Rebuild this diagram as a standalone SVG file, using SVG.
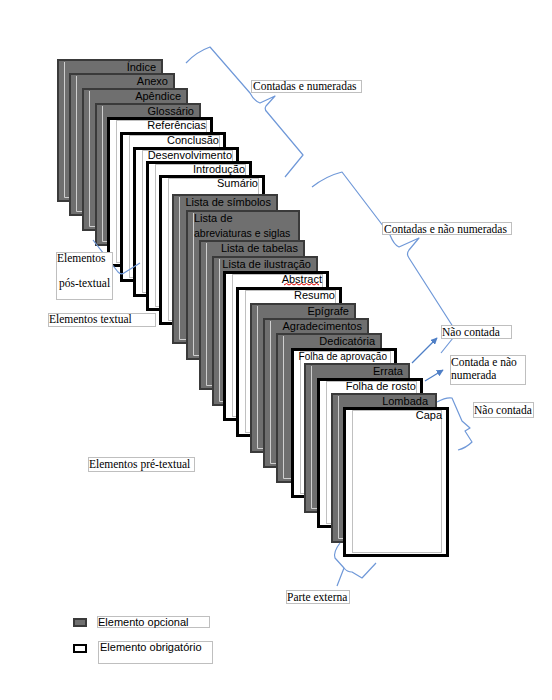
<svg xmlns="http://www.w3.org/2000/svg" width="552" height="700" viewBox="0 0 552 700">
<style>
.g{fill:#6f6f6f;stroke:#3a3a3a;stroke-width:2}
.gi{fill:none;stroke:#cfcfcf;stroke-width:1}
.w{fill:#fff;stroke:#000;stroke-width:3}
.wi{fill:none;stroke:#c0c0c0;stroke-width:1}
.t{font-family:"Liberation Sans",Arial,sans-serif;font-size:11px;fill:#000}
.te{text-anchor:end}
.br{fill:none;stroke:#6f98d8;stroke-width:1.2;stroke-linejoin:round}
.ar{fill:none;stroke:#4f7fc6;stroke-width:1.2}
.lb{fill:#fff;stroke:#bfbfbf;stroke-width:1}
.s{font-family:"Liberation Serif","Times New Roman",serif;font-size:11.5px;fill:#000}
</style>
<defs>
<marker id="ah" viewBox="0 0 10 10" refX="9" refY="5" markerWidth="7" markerHeight="7" orient="auto" markerUnits="userSpaceOnUse">
<path d="M0,0 L10,5 L0,10 z" fill="#4f7fc6"/>
</marker>
</defs>

<g id="pages">
<g id="p-indice" transform="translate(57,59)"><rect class="g" x="1" y="1" width="104" height="141"/><path class="gi" d="M7.5,3 V138.5 H100"/><text class="t te" x="99" y="11.5">Índice</text></g>
<g id="p-anexo" transform="translate(69,73)"><rect class="g" x="1" y="1" width="104" height="141"/><path class="gi" d="M7.5,3 V138.5 H100"/><text class="t te" x="99" y="11.5">Anexo</text></g>
<g id="p-apendice" transform="translate(82,88)"><rect class="g" x="1" y="1" width="104" height="141"/><path class="gi" d="M7.5,3 V138.5 H100"/><text class="t te" x="99" y="11.5">Apêndice</text></g>
<g id="p-glossario" transform="translate(95,103)"><rect class="g" x="1" y="1" width="104" height="141"/><path class="gi" d="M7.5,3 V138.5 H100"/><text class="t te" x="99" y="11.5">Glossário</text></g>
<g id="p-referencias" transform="translate(107,117)"><rect class="w" x="1.5" y="1.5" width="103" height="147"/><rect class="wi" x="9.5" y="3.5" width="90" height="142"/><text class="t te" x="99" y="12">Referências</text></g>
<g id="p-conclusao" transform="translate(120,132)"><rect class="w" x="1.5" y="1.5" width="103" height="147"/><rect class="wi" x="9.5" y="3.5" width="90" height="142"/><text class="t te" x="99" y="12">Conclusão</text></g>
<g id="p-desenvolvimento" transform="translate(133,147)"><rect class="w" x="1.5" y="1.5" width="103" height="147"/><rect class="wi" x="9.5" y="3.5" width="90" height="142"/><text class="t te" x="99" y="12">Desenvolvimento</text></g>
<g id="p-introducao" transform="translate(146,161)"><rect class="w" x="1.5" y="1.5" width="103" height="147"/><rect class="wi" x="9.5" y="3.5" width="90" height="142"/><text class="t te" x="99" y="12">Introdução</text></g>
<g id="p-sumario" transform="translate(159,175)"><rect class="w" x="1.5" y="1.5" width="103" height="147"/><rect class="wi" x="9.5" y="3.5" width="90" height="142"/><text class="t te" x="99" y="12">Sumário</text></g>
<g id="p-simbolos" transform="translate(172,194)"><rect class="g" x="1" y="1" width="104" height="148"/><path class="gi" d="M7.5,3 V145.5 H100"/><text class="t te" x="99" y="12">Lista de símbolos</text></g>
<g id="p-abreviaturas" transform="translate(186,210)"><rect class="g" x="1" y="1" width="112" height="148"/><path class="gi" d="M7.5,3 V145.5 H108"/><text class="t" x="8" y="12">Lista de</text><text class="t" x="8" y="27" style="font-size:10.5px">abreviaturas e siglas</text></g>
<g id="p-tabelas" transform="translate(199,240)"><rect class="g" x="1" y="1" width="104" height="148"/><path class="gi" d="M7.5,3 V145.5 H100"/><text class="t te" x="99" y="12">Lista de tabelas</text></g>
<g id="p-ilustracao" transform="translate(212,256)"><rect class="g" x="1" y="1" width="104" height="148"/><path class="gi" d="M7.5,3 V145.5 H100"/><text class="t te" x="99" y="12">Lista de ilustração</text></g>
<g id="p-abstract" transform="translate(223,271)"><rect class="w" x="1.5" y="1.5" width="103" height="147"/><rect class="wi" x="9.5" y="3.5" width="90" height="142"/><text class="t te" x="99" y="12">Abstract</text><path d="M61,14 l2.5,-1.5 l2.5,1.5 l2.5,-1.5 l2.5,1.5 l2.5,-1.5 l2.5,1.5 l2.5,-1.5 l2.5,1.5 l2.5,-1.5 l2.5,1.5 l2.5,-1.5 l2.5,1.5 l2.5,-1.5 l2.5,1.5" fill="none" stroke="#e00000" stroke-width="1"/></g>
<g id="p-resumo" transform="translate(236,287)"><rect class="w" x="1.5" y="1.5" width="103" height="147"/><rect class="wi" x="9.5" y="3.5" width="90" height="142"/><text class="t te" x="99" y="12">Resumo</text></g>
<g id="p-epigrafe" transform="translate(250,303)"><rect class="g" x="1" y="1" width="104" height="148"/><path class="gi" d="M7.5,3 V145.5 H100"/><text class="t te" x="99" y="12">Epígrafe</text></g>
<g id="p-agradecimentos" transform="translate(263,318)"><rect class="g" x="1" y="1" width="104" height="148"/><path class="gi" d="M7.5,3 V145.5 H100"/><text class="t te" x="99" y="12">Agradecimentos</text></g>
<g id="p-dedicatoria" transform="translate(276,333)"><rect class="g" x="1" y="1" width="104" height="148"/><path class="gi" d="M7.5,3 V145.5 H100"/><text class="t te" x="99" y="12">Dedicatória</text></g>
<g id="p-aprovacao" transform="translate(291,348)"><rect class="w" x="1.5" y="1.5" width="103" height="147"/><rect class="wi" x="9.5" y="3.5" width="90" height="142"/><text class="t te" x="96" y="12" style="font-size:10px">Folha de aprovação</text></g>
<g id="p-errata" transform="translate(304,363)"><rect class="g" x="1" y="1" width="104" height="148"/><path class="gi" d="M7.5,3 V145.5 H100"/><text class="t te" x="99" y="12">Errata</text></g>
<g id="p-rosto" transform="translate(317,378)"><rect class="w" x="1.5" y="1.5" width="103" height="147"/><rect class="wi" x="9.5" y="3.5" width="90" height="142"/><text class="t te" x="99" y="12">Folha de rosto</text></g>
<g id="p-lombada" transform="translate(331,393)"><rect class="g" x="1" y="1" width="104" height="148"/><path class="gi" d="M7.5,3 V145.5 H100"/><text class="t te" x="97" y="12">Lombada</text></g>
<g id="p-capa" transform="translate(343,407)"><rect class="w" x="1.5" y="1.5" width="103" height="147"/><rect class="wi" x="9.5" y="3.5" width="89" height="142"/><text class="t te" x="99" y="12">Capa</text></g>
</g>

<g id="connectors">
<path class="br" d="M186,63 Q196,52 210,47 L250,93 Q254,101 260,103 L275,96 L266,106 Q264,109 267,112 L303,155 L285,177"/>
<path class="br" d="M312,187 Q326,176 342,172 L390,235 Q394,245 399,247 L419,238 L409,250 Q406,254 409,258 L457,333 L441,353"/>
<path class="br" d="M437,402 Q446,397 452,398 L462,421 L470,428 L465,431 L472,442 Q466,448 458,450"/>
<path class="br" d="M340,543 Q333,552 335,558 L344,568 L337,586 M344,568 Q347,572 352,572 L362,578 L376,563"/>
<path class="br" d="M93,240 L118,272 Q121,275 124,273 L140,263"/>
<path class="ar" d="M412,363 L437,338" marker-end="url(#ah)"/>
<path class="ar" d="M425,381 L443,370" marker-end="url(#ah)"/>
</g>

<g id="lbl-contadas-numeradas"><rect class="lb" x="251.5" y="80.5" width="110" height="12"/><text class="s" x="253" y="90">Contadas e numeradas</text></g>
<g id="lbl-contadas-nao-numeradas"><rect class="lb" x="382.5" y="222.5" width="129" height="12"/><text class="s" x="384" y="232.5">Contadas e não numeradas</text></g>
<g id="lbl-nao-contada-1"><rect class="lb" x="441.5" y="325.5" width="70" height="13"/><text class="s" x="442" y="335.5">Não contada</text></g>
<g id="lbl-contada-nao-numerada"><rect class="lb" x="450.5" y="355.5" width="75" height="29"/><text class="s" x="451" y="366">Contada e não</text><text class="s" x="451" y="379">numerada</text></g>
<g id="lbl-nao-contada-2"><rect class="lb" x="473.5" y="402.5" width="60" height="15"/><text class="s" x="474" y="413.5">Não contada</text></g>
<g id="lbl-pos-textual"><rect class="lb" x="56.5" y="252.5" width="56" height="47"/><text class="s" x="57" y="262">Elementos</text><text class="s" x="59" y="287">pós-textual</text></g>
<g id="lbl-textual"><rect class="lb" x="48.5" y="313.5" width="107" height="13"/><text class="s" x="49" y="323">Elementos textual</text></g>
<g id="lbl-pre-textual"><rect class="lb" x="88.5" y="457.5" width="106" height="14"/><text class="s" x="89" y="468">Elementos pré-textual</text></g>
<g id="lbl-parte-externa"><rect class="lb" x="286.5" y="590.5" width="63" height="13"/><text class="s" x="287" y="600.5">Parte externa</text></g>

<g id="legend">
<rect x="74" y="619" width="12" height="7" fill="#6f6f6f" stroke="#3a3a3a" stroke-width="2"/>
<rect class="lb" x="97.5" y="616.5" width="112" height="11"/>
<text class="t" x="98" y="626">Elemento opcional</text>
<rect x="74" y="645" width="12" height="7" fill="#fff" stroke="#000" stroke-width="2"/>
<rect class="lb" x="98.5" y="641.5" width="114" height="22"/>
<text class="t" x="100" y="651">Elemento obrigatório</text>
</g>
</svg>
